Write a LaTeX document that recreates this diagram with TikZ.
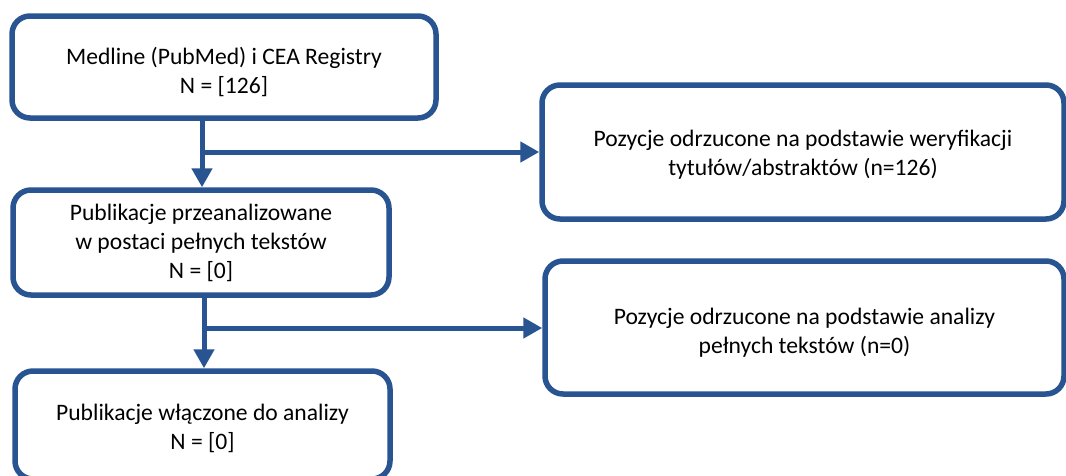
\documentclass[tikz,border=0pt]{standalone}
\usepackage{fontspec}
\setmainfont{Carlito}
\usetikzlibrary{arrows.meta,positioning}
\definecolor{boxblue}{RGB}{40,84,145}
\newcommand{\lowerby}[2]{\raisebox{-#1}[\height][\depth]{\begin{tabular}{@{}c@{}}#2\end{tabular}}}
\begin{document}
\begin{tikzpicture}[x=1pt,y=-1pt,
  flowbox/.style={draw=boxblue, line width=5.5pt, rounded corners=18pt, fill=white,
    align=center, inner sep=0pt, font=\fontsize{23.6}{29}\selectfont},
  flowarrow/.style={draw=boxblue, line width=5pt, -{Triangle[length=19pt,width=20pt]}}]
\clip (0,0) rectangle (1066,475);
\fill[white] (0,0) rectangle (1066,475);

\node[flowbox, minimum width=424pt, minimum height=102pt] (src) at (224,67)
  {\lowerby{6pt}{Medline (PubMed) i CEA Registry\\N = [126]}};
\node[flowbox, minimum width=522pt, minimum height=134pt] (exc1) at (803,152)
  {\lowerby{3pt}{Pozycje odrzucone na podstawie weryfikacji\\tytułów/abstraktów (n=126)}};
\node[flowbox, minimum width=376pt, minimum height=105pt] (full) at (201,242.5)
  {\lowerby{1.5pt}{Publikacje przeanalizowane\\w postaci pełnych tekstów\\N = [0]}};
\node[flowbox, minimum width=519pt, minimum height=133pt] (exc2) at (804.5,327.5)
  {\lowerby{5.5pt}{Pozycje odrzucone na podstawie analizy\\pełnych tekstów (n=0)}};
\node[flowbox, minimum width=375pt, minimum height=108pt] (incl) at (202.5,425)
  {\lowerby{4.5pt}{Publikacje włączone do analizy\\N = [0]}};

\coordinate (j1) at (202,152);
\coordinate (j2) at (204,328);
\draw[flowarrow] (src.south -| j1) -- (full.north -| j1);
\draw[flowarrow] (j1) -- (exc1.west |- j1);
\draw[flowarrow] (full.south -| j2) -- (incl.north -| j2);
\draw[flowarrow] (j2) -- (exc2.west |- j2);
\end{tikzpicture}
\end{document}
